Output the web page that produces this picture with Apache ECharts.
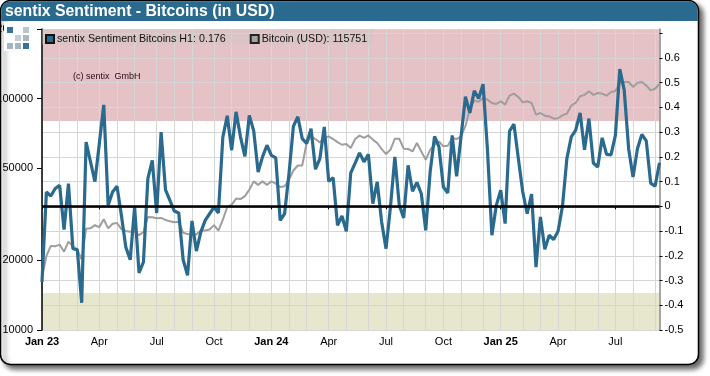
<!DOCTYPE html>
<html><head><meta charset="utf-8">
<style>html,body{margin:0;padding:0;background:#fff}#c{width:710px;height:376px}</style>
<script src="https://cdn.jsdelivr.net/npm/echarts@6/dist/echarts.min.js"></script>
</head><body><div id="c"></div>
<script>
const chartTitle = 'sentix Sentiment - Bitcoins (in USD)';
const sentimentName = 'sentix Sentiment Bitcoins H1: 0.176';
const bitcoinName = 'Bitcoin (USD): 115751';
const sentiment = [-0.306,0.058,0.042,0.072,0.085,-0.094,0.092,-0.171,-0.175,-0.39,0.26,0.18,0.10,0.254,0.41,0.004,0.058,0.081,-0.036,-0.165,-0.216,-0.003,-0.269,-0.225,
0.112,0.186,-0.027,0.30,0.067,0.024,-0.019,-0.027,-0.216,-0.279,-0.059,-0.181,-0.104,-0.057,-0.03,-0.003,-0.027,0.28,0.366,0.227,0.382,0.281,
0.202,0.368,0.305,0.139,0.2,0.247,0.206,0.196,-0.057,-0.03,0.132,0.324,0.362,0.274,0.254,0.314,0.15,0.193,0.321,0.101,0.116,-0.077,-0.039,-0.101,
0.135,0.175,0.216,0.18,0.21,0.011,0.099,-0.063,-0.171,-0.003,0.2,0.004,-0.047,0.166,0.061,0.097,0.051,-0.097,0.139,0.283,0.24,0.078,0.054,0.287,
0.121,0.281,0.443,0.378,0.467,0.436,0.494,0.227,-0.117,0.004,0.065,-0.07,0.304,0.332,0.193,0.058,-0.03,0.049,-0.246,-0.043,-0.174,-0.117,-0.134,
-0.101,0,0.193,0.281,0.308,0.378,0.229,0.355,0.175,0.159,0.277,0.21,0.208,0.287,0.555,0.47,0.233,0.119,0.233,0.291,0.265,0.094,0.081,0.176];
const bitcoin = [16950,20900,23100,23000,23400,21800,24100,23000,22200,20200,27400,27500,28400,27800,30100,27500,28800,29000,27300,26800,26600,26700,25700,26500,
30800,30700,30400,30500,29900,29500,29200,29400,26300,26000,25900,25900,26900,26900,27200,28400,26900,30000,34000,34800,37000,36800,
37900,40400,43900,42400,43900,42400,43900,42900,41500,41800,44600,48900,51400,51400,64300,68700,66900,64700,67600,68700,66900,64900,63200,63700,
61200,66900,69200,67600,69300,66500,64300,60600,57600,60100,67100,67100,60800,60600,59100,64300,59100,54400,60100,63200,65300,62200,62600,67600,
66900,68700,76000,90500,98000,97000,100700,99000,95800,94900,97400,94200,103000,105100,101700,96400,97400,95800,85300,86700,84400,83800,81900,
82300,84700,86100,93300,95800,102400,103800,107600,103800,105800,105100,103000,106900,108000,117000,118000,118000,112400,117000,118000,114000,108600,110400,115751];
const weekCategories = sentiment.map((_, i) => 'w' + i);
const monthWeeks = [0,4,8,13,17,21,26,30,34,39,43,47,52,56,60,65,69,74,78,82,87,91,95,100,104,109,113,117,121,126,130,134,139];
const quarterWeeks = [0,13,26,39,52,65,78,91,104,117,130];
const quarterLabels = ['Jan 23','Apr','Jul','Oct','Jan 24','Apr','Jul','Oct','Jan 25','Apr','Jul'];
const leftTicks = [10000,20000,50000,100000,200000];
const upperBand = 0.345, lowerBand = -0.35;

const FONT = '"Liberation Sans", Arial, sans-serif';
const logoCells = [[0,0,'#37729a'],[2,0,'#b9c6ce'],[1,1,'#c3ced6'],[2,1,'#a9b8c3'],[0,2,'#a3b5c1'],[1,2,'#a3b5c1'],[2,2,'#37729a']];
const chart = echarts.init(document.getElementById('c'), null, {renderer:'canvas'});
chart.setOption({
  animation:false,
  backgroundColor:'#fff',
  textStyle:{fontFamily:FONT},
  title:{text:chartTitle,left:5,top:3,padding:0,textStyle:{color:'#fff',fontSize:15.8,fontWeight:'bold',fontFamily:FONT,lineHeight:18}},
  graphic:{elements:[
    {type:'rect',z:-20,silent:true,shape:{x:0.5,y:0.5,width:698,height:364,r:10},style:{fill:'#fff',stroke:'#000',lineWidth:1.5,shadowBlur:5,shadowOffsetX:4,shadowOffsetY:4,shadowColor:'rgba(0,0,0,0.6)'}},
    {type:'rect',z:-19,silent:true,shape:{x:1.2,y:1.2,width:696.6,height:19.8,r:[9,9,0,0]},style:{fill:'#2a6a8f'}},
    {type:'rect',z:50,silent:true,shape:{x:4,y:22,width:32,height:29},style:{fill:'#fff'}},
    ...logoCells.map(c=>({type:'rect',z:51,silent:true,shape:{x:7+c[0]*8,y:27+c[1]*8,width:6,height:6},style:{fill:c[2]}})),
    {type:'text',z:20,silent:true,x:73,y:72,style:{text:'(c) sentix  GmbH',fill:'#2a0818',font:'9px '+FONT}}
  ]},
  legend:{
    left:42,top:29,padding:[4.5,6,0,3],orient:'horizontal',itemWidth:8,itemHeight:8,itemGap:24,icon:'rect',
    backgroundColor:'rgba(200,200,200,0.35)',
    data:[sentimentName,bitcoinName],
    textStyle:{fontSize:10.7,color:'#111',fontFamily:FONT,padding:[0,0,0,-2]},
    selectedMode:false
  },
  grid:{left:42,top:29,width:617.5,height:301,containLabel:false,outerBoundsMode:'none'},
  xAxis:{
    type:'category',data:weekCategories,boundaryGap:false,
    axisLine:{lineStyle:{color:'#888',width:1.5}},
    axisTick:{show:true,length:3,alignWithLabel:true,interval:(i)=>quarterWeeks.includes(i),lineStyle:{color:'#000'}},
    splitLine:{show:true,interval:(i)=>monthWeeks.includes(i),lineStyle:{color:'#d6d6d6',width:1}},
    axisLabel:{show:true,interval:(i)=>quarterWeeks.includes(i),margin:6,fontSize:11,color:'#000',hideOverlap:false,
      formatter:(v,i)=>{const q=quarterWeeks.indexOf(i);if(q<0)return '';const s=quarterLabels[q];return s.startsWith('Jan')?'{b|'+s+'}':s;},
      rich:{b:{fontWeight:'bold',fontSize:11,color:'#000',fontFamily:FONT}}}
  },
  yAxis:[
    {type:'log',logBase:10,min:10000,max:200000,position:'left',
      axisLine:{show:true,lineStyle:{color:'#000',width:1.5}},
      axisTick:{show:true,length:5,customValues:leftTicks,lineStyle:{color:'#000'}},
      axisLabel:{show:true,customValues:leftTicks,margin:9,fontSize:11,color:'#000',formatter:(v)=>String(Math.round(v))},
      splitLine:{show:false},minorTick:{show:false},minorSplitLine:{show:false}},
    {type:'value',min:-0.5,max:0.717,interval:0.1,position:'right',
      axisLine:{show:true,onZero:false,lineStyle:{color:'#888',width:1.5}},
      axisTick:{show:true,length:3,lineStyle:{color:'#000'}},
      axisLabel:{show:true,margin:5,fontSize:11,color:'#000',showMaxLabel:false,
        formatter:(v)=>{if(v>0.65)return '';const s=Math.abs(v)<1e-9?'0':String(+v.toFixed(1));return s;}},
      splitLine:{show:true,lineStyle:{color:'#d6d6d6',width:1}}}
  ],
  series:[
    {name:bitcoinName,type:'line',yAxisIndex:0,data:bitcoin,showSymbol:false,symbol:'none',z:3,silent:true,
      lineStyle:{color:'#a09d9d',width:2},itemStyle:{color:'#a5a2a2',borderColor:'#222',borderWidth:1}},
    {name:sentimentName,type:'line',yAxisIndex:1,data:sentiment,showSymbol:false,symbol:'none',z:4,silent:true,
      lineStyle:{color:'#2a6a8f',width:3.2},itemStyle:{color:'#2a6a8f',borderColor:'#111',borderWidth:1},
      markArea:{silent:true,z:-1,itemStyle:{opacity:1},data:[
        [{yAxis:upperBand,itemStyle:{color:'#e4c2c5'}},{yAxis:0.717}],
        [{yAxis:-0.5,itemStyle:{color:'#e6e7cc'}},{yAxis:lowerBand}]
      ]},
      markLine:{silent:true,z:6,symbol:'none',label:{show:false},lineStyle:{color:'#000',width:2.5,type:'solid'},data:[{yAxis:0}]}}
  ]
});
</script></body></html>
